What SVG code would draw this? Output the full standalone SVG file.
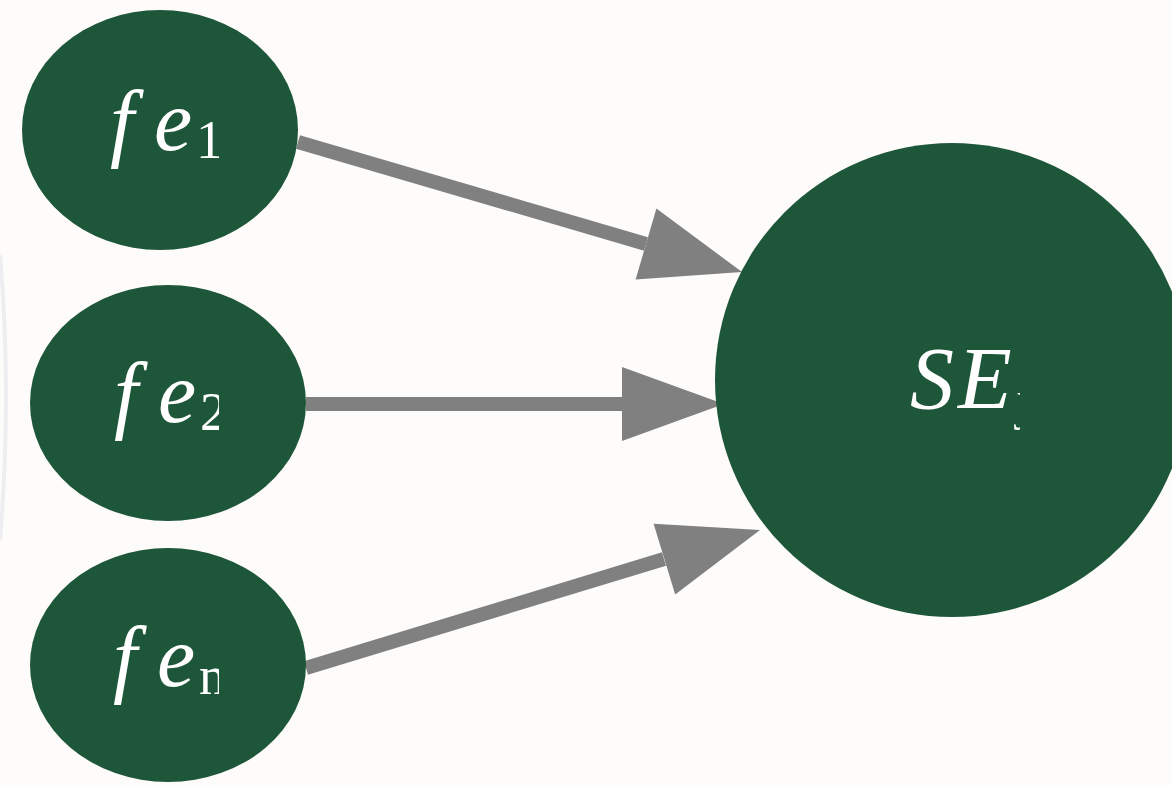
<svg xmlns="http://www.w3.org/2000/svg" width="1172" height="785" viewBox="0 0 1172 785">
  <style>
    .node { fill: #1E5639; }
    .lbl { fill: #FFFFFF; font-family: "Liberation Serif", "DejaVu Serif", serif; font-style: italic; }
    .fe { font-size: 86px; }
    .se { font-size: 88px; letter-spacing: 4px; }
    .sub { font-size: 54px; font-style: normal; }
    .edge { stroke: #808080; stroke-width: 14; fill: none; }
    .head { fill: #808080; }
  </style>
  <defs>
    <clipPath id="c1"><rect x="0" y="0" width="219" height="785"/></clipPath>
    <clipPath id="c4"><rect x="0" y="0" width="1020" height="785"/></clipPath>
  </defs>
  <rect width="1172" height="785" fill="#FDFCFA"/>
  <path d="M 0 255 Q 12 395 0 540" stroke="#EEEEF0" stroke-width="4" fill="none"/>
  <g id="connectors">
    <line class="edge" x1="298" y1="142" x2="646" y2="244"/>
    <polygon class="head" points="742,272 635.6,279.6 656.4,208.4"/>
    <line class="edge" x1="306" y1="404" x2="624" y2="404"/>
    <polygon class="head" points="724,404 622,367 622,441"/>
    <line class="edge" x1="306" y1="668" x2="664" y2="559"/>
    <polygon class="head" points="760,530 675.2,594.5 653.6,523.7"/>
  </g>
  <g id="fe1">
    <ellipse class="node" cx="160" cy="130" rx="138" ry="120"/>
    <text class="lbl fe" x="110" y="150" clip-path="url(#c1)">f<tspan dx="20">e</tspan><tspan class="sub" dx="4" dy="8">1</tspan></text>
  </g>
  <g id="fe2">
    <ellipse class="node" cx="168" cy="403" rx="138" ry="118"/>
    <text class="lbl fe" x="114" y="422" clip-path="url(#c1)">f<tspan dx="20">e</tspan><tspan class="sub" dx="4" dy="8">2</tspan></text>
  </g>
  <g id="fen">
    <ellipse class="node" cx="168" cy="665" rx="138" ry="117"/>
    <text class="lbl fe" x="113" y="686" clip-path="url(#c1)">f<tspan dx="20">e</tspan><tspan class="sub" dx="4" dy="8" font-style="italic">n</tspan></text>
  </g>
  <g id="SEj">
    <circle class="node" cx="952" cy="380" r="237"/>
    <text class="lbl se" x="910" y="408" clip-path="url(#c4)">SE<tspan class="sub" dx="0" dy="10" font-style="italic">j</tspan></text>
  </g>
</svg>
